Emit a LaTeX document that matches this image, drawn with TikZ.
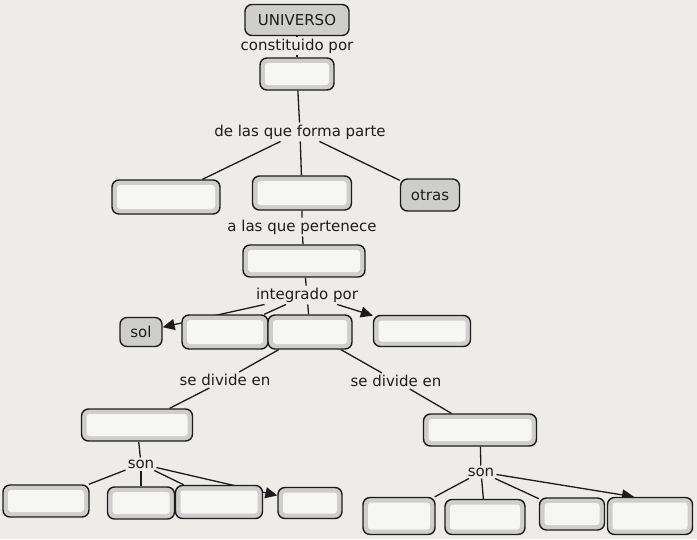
\documentclass[tikz,border=0pt]{standalone}
\usepackage{fontspec}
\setmainfont{DejaVu Sans}
\usetikzlibrary{arrows.meta,positioning}

\definecolor{paper}{RGB}{238,236,233}
\definecolor{boxfill}{RGB}{206,206,204}
\definecolor{blank}{RGB}{246,246,245}
\definecolor{ink}{RGB}{28,28,28}

\pgfdeclarelayer{paperlayer}
\pgfdeclarelayer{links}
\pgfsetlayers{paperlayer,links,main}

\begin{document}
\begin{tikzpicture}[x=1pt, y=-1pt,
    concept/.style={rectangle, rounded corners=7pt,
                    draw=ink, line width=1.4pt, fill=boxfill,
                    inner sep=0pt, text=ink,
                    font=\fontsize{15}{17}\selectfont},
    blankbox/.style={concept,
                    path picture={\fill[blank, rounded corners=3pt]
                      ([shift={(5pt,-5pt)}]path picture bounding box.north west) rectangle
                      ([shift={(-5pt,5pt)}]path picture bounding box.south east);}},
    phrase/.style={inner sep=2pt, text=ink,
                   font=\fontsize{15}{17}\selectfont},
    link/.style={draw=ink, line width=1.3pt},
    arr/.style={link, -{Triangle[length=12pt, width=11pt]}},
]

\useasboundingbox (0,0) rectangle (697,539);
\begin{pgfonlayer}{paperlayer}
  \fill[paper] (0,0) rectangle (697,539);
\end{pgfonlayer}

%% ─── Top ────────────────────────────────────────────────────────────────────
\node[concept, minimum width=104pt, minimum height=31pt] (universo) at (297,20) {UNIVERSO};
\node[phrase] (constituido) at (297,46) {constituido por};
\node[blankbox, minimum width=74pt, minimum height=32pt] (galaxias) at (297,74) {};

\node[phrase] (formaparte) at (300,132) {de las que forma parte};
\node[blankbox, minimum width=108pt, minimum height=34pt] (gal_izq) at (166,197) {};
\node[blankbox, minimum width=99pt, minimum height=34pt] (gal_mid) at (302,193) {};
\node[concept, minimum width=59pt, minimum height=32pt] (otras) at (430,195) {otras};

%% ─── Middle ─────────────────────────────────────────────────────────────────
\node[phrase] (pertenece) at (302,227) {a las que pertenece};
\node[blankbox, minimum width=122pt, minimum height=32pt] (sistema) at (304,261) {};
\node[phrase] (integrado) at (307,295) {integrado por};

\node[concept, minimum width=42pt, minimum height=29pt] (sol) at (141,332) {sol};
\node[blankbox, minimum width=86pt, minimum height=34pt] (cuerpo_a) at (225,332) {};
\node[blankbox, minimum width=84pt, minimum height=34pt] (cuerpo_b) at (310,332) {};
\node[blankbox, minimum width=97pt, minimum height=31pt] (cuerpo_c) at (422,331) {};

%% ─── Branches ───────────────────────────────────────────────────────────────
\node[phrase] (divide_izq) at (225,380) {se divide en};
\node[phrase] (divide_der) at (396,381) {se divide en};
\node[blankbox, minimum width=111pt, minimum height=32pt] (rama_izq) at (137,425) {};
\node[blankbox, minimum width=113pt, minimum height=32pt] (rama_der) at (480,430) {};

\node[phrase] (son_izq) at (141,464) {son};
\node[phrase] (son_der) at (481,472) {son};

%% left leaves
\node[blankbox, minimum width=86pt, minimum height=32pt] (hoja_i1) at (46,501) {};
\node[blankbox, minimum width=67pt, minimum height=32pt] (hoja_i2) at (141,503) {};
\node[blankbox, minimum width=87pt, minimum height=33pt] (hoja_i3) at (219,502) {};
\node[blankbox, minimum width=64pt, minimum height=31pt] (hoja_i4) at (310,503) {};

%% right leaves
\node[blankbox, minimum width=72pt, minimum height=37pt] (hoja_d1) at (399,516) {};
\node[blankbox, minimum width=80pt, minimum height=35pt] (hoja_d2) at (485,517) {};
\node[blankbox, minimum width=65pt, minimum height=32pt] (hoja_d3) at (572,514) {};
\node[blankbox, minimum width=85pt, minimum height=37pt] (hoja_d4) at (650,516) {};

%% ─── Connectors ─────────────────────────────────────────────────────────────
\begin{pgfonlayer}{links}
\draw[link] (universo) -- (constituido) -- (galaxias);
\draw[link] (galaxias) -- (formaparte);
\draw[link] (formaparte) -- (gal_izq);
\draw[link] (formaparte) -- (gal_mid);
\draw[link] (formaparte) -- (otras);

\draw[link] (gal_mid) -- (pertenece) -- (sistema);
\draw[link] (sistema) -- (integrado);
\draw[arr]  (integrado) -- (sol);
\draw[link] (integrado) -- (cuerpo_a);
\draw[link] (integrado) -- (cuerpo_b);
\draw[arr]  (integrado) -- (cuerpo_c);

\draw[link] (cuerpo_b) -- (divide_izq) -- (rama_izq);
\draw[link] (cuerpo_b) -- (divide_der) -- (rama_der);

\draw[link] (rama_izq) -- (son_izq);
\draw[link] (son_izq) -- (hoja_i1);
\draw[link] (son_izq) -- (hoja_i2);
\draw[link] (son_izq) -- (hoja_i3);
\draw[arr]  (son_izq) -- (hoja_i4);

\draw[link] (rama_der) -- (son_der);
\draw[link] (son_der) -- (hoja_d1);
\draw[link] (son_der) -- (hoja_d2);
\draw[link] (son_der) -- (hoja_d3);
\draw[arr]  (son_der) -- ([xshift=-16pt]hoja_d4.north);
\end{pgfonlayer}

\end{tikzpicture}
\end{document}
